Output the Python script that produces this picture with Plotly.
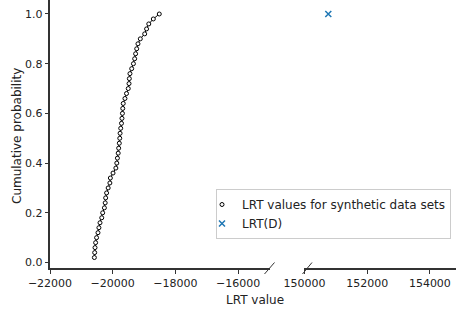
import plotly.graph_objects as go

# Sorted LRT values for synthetic data sets (empirical CDF)
synthetic_lrt = [
    -20585, -20575, -20565, -20545, -20515, -20470, -20440, -20405, -20350, -20320,
    -20265, -20240, -20225, -20195, -20145, -20090, -20075, -19990, -19900, -19870,
    -19850, -19825, -19810, -19790, -19775, -19765, -19745, -19720, -19705, -19690,
    -19680, -19665, -19610, -19560, -19505, -19480, -19470, -19450, -19395, -19340,
    -19300, -19270, -19235, -19195, -19120, -18980, -18920, -18850, -18705, -18515,
]
cum_prob = [(i + 1) / len(synthetic_lrt) for i in range(len(synthetic_lrt))]

observed_lrt = [150760]
observed_prob = [1.0]

left_ticks = [-22000, -20000, -18000, -16000]
right_ticks = [150000, 152000, 154000]
y_ticks = [0.0, 0.2, 0.4, 0.6, 0.8, 1.0]

W, H = 456, 314
FONT = "DejaVu Sans"
TXT = "#222222"
AX = "#333333"

fig = go.Figure()
fig.add_trace(go.Scatter(
    x=synthetic_lrt, y=cum_prob, mode="lines", xaxis="x", yaxis="y",
    line=dict(color="black", width=1), showlegend=False, hoverinfo="skip"))
fig.add_trace(go.Scatter(
    x=synthetic_lrt, y=cum_prob, mode="markers", xaxis="x", yaxis="y",
    name="LRT values for synthetic data sets",
    marker=dict(symbol="circle", size=4, color="white",
                line=dict(color="black", width=1))))
fig.add_trace(go.Scatter(
    x=observed_lrt, y=observed_prob, mode="markers", xaxis="x2", yaxis="y",
    name="LRT(D)",
    marker=dict(symbol="x-thin", size=6, color="#1f77b4",
                line=dict(color="#1f77b4", width=1.5))))

def px(x):
    return x / W

def py(y):
    return 1 - y / H

axis_common = dict(
    showline=True, linecolor=AX, linewidth=1.5, ticks="outside", ticklen=3.5,
    tickwidth=1, tickcolor=AX, showgrid=False, zeroline=False, automargin=False,
    tickfont=dict(family=FONT, size=11, color=TXT))

fig.update_layout(
    template="none",
    width=W, height=H, margin=dict(l=0, r=0, t=0, b=0, autoexpand=False),
    paper_bgcolor="white", plot_bgcolor="white",
    font=dict(family=FONT, size=11, color=TXT),
    xaxis=dict(domain=[px(50), px(269.5)], range=[-22000, -15000],
               tickvals=left_ticks, ticktext=["\u2212" + str(abs(v)) for v in left_ticks],
               anchor="y", **axis_common),
    xaxis2=dict(domain=[px(304), 1.0], range=[149985, 154833],
                tickvals=right_ticks, ticktext=[str(v) for v in right_ticks],
                anchor="y", **axis_common),
    yaxis=dict(domain=[py(268.3), 1.0], range=[-0.0233, 1.0563],
               tickvals=y_ticks, tickformat=".1f", anchor="x", **axis_common),
    legend=dict(x=px(216), y=py(189), xanchor="left", yanchor="top",
                bgcolor="white", bordercolor="#cccccc", borderwidth=1,
                font=dict(family=FONT, size=12, color=TXT),
                itemwidth=30, indentation=-15, tracegroupgap=0),
    showlegend=True,
)

# axis labels
fig.add_annotation(text="Cumulative probability", x=px(8), y=py(136),
                   xref="paper", yref="paper", textangle=-90, showarrow=False,
                   font=dict(family=FONT, size=12, color=TXT))
fig.add_annotation(text="LRT value", x=px(255), y=py(309), xref="paper", yref="paper",
                   showarrow=False, font=dict(family=FONT, size=12, color=TXT))

# broken-axis diagonal marks
for x0, x1 in [(264.5, 274.5), (302.5, 312)]:
    fig.add_shape(type="line", xref="paper", yref="paper",
                  x0=px(x0), y0=py(274), x1=px(x1), y1=py(262.5),
                  line=dict(color=AX, width=1))

fig.write_html(
    "out.html",
    config={"displayModeBar": False},
    post_script="document.body.style.margin='0';document.body.style.padding='0';",
)
